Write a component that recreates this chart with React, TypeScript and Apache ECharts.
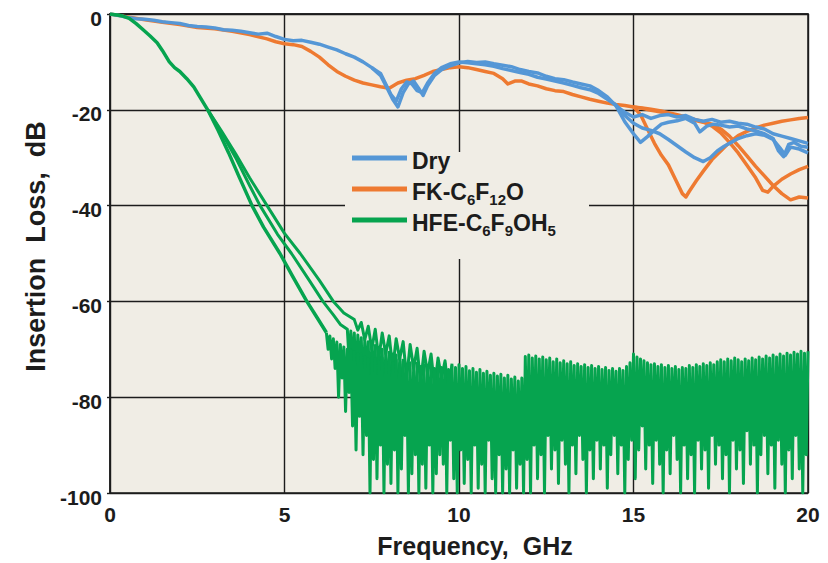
import React, { useEffect, useRef } from "react";
import * as echarts from "echarts";

// ---- axis settings ----
const xMin = 0, xMax = 20, xStep = 5;
const yMin = -100, yMax = 0, yStep = 20;

// ---- Dry (blue) ----
const dryShared: number[][] = [
  [0, 0], [0.25, -0.3], [0.5, -0.7], [0.75, -1.0], [1, -1.1], [1.25, -1.3], [1.5, -1.6], [1.75, -1.8],
  [2, -2.0], [2.25, -2.4], [2.5, -2.6], [2.75, -2.7], [3, -2.9], [3.25, -3.3], [3.5, -3.4], [3.75, -3.6],
  [4, -3.9], [4.25, -4.2], [4.5, -4.0], [4.75, -4.7], [5, -5.3], [5.25, -5.6], [5.5, -5.5], [5.75, -5.9],
  [6, -6.3], [6.25, -6.9], [6.5, -7.5], [6.75, -8.3], [7, -9.0], [7.25, -10.0], [7.5, -11.2],
];
const dryMidA: number[][] = [
  [7.75, -12.8], [7.95, -15.6], [8.1, -17.8], [8.25, -19.4], [8.4, -16.4], [8.55, -14.6], [8.7, -14.0],
  [8.85, -15.6], [8.97, -17.0], [9.1, -15.0], [9.3, -12.8], [9.5, -11.6], [9.75, -10.8], [10, -10.2],
  [10.25, -9.9], [10.5, -10.1], [10.75, -10.0], [11, -10.4], [11.25, -10.7], [11.5, -11.0], [11.75, -11.6],
  [12, -12.0], [12.25, -12.3], [12.5, -13.0], [12.75, -13.5], [13, -13.7], [13.25, -14.2], [13.5, -14.6],
  [13.75, -15.0], [14, -16.0], [14.25, -17.3], [14.5, -19.2],
];
const dryMidB: number[][] = [
  [7.75, -12.4], [7.9, -14.6], [8.05, -16.8], [8.2, -18.2], [8.35, -15.6], [8.5, -14.2], [8.65, -14.6],
  [8.8, -16.0], [8.95, -16.4], [9.1, -14.4], [9.3, -12.4], [9.5, -11.2], [9.75, -10.4], [10, -10.0],
  [10.25, -10.2], [10.5, -10.4], [10.75, -10.6], [11, -10.9], [11.25, -11.4], [11.5, -11.8], [11.75, -12.2],
  [12, -12.6], [12.25, -13.2], [12.5, -13.6], [12.75, -14.0], [13, -14.4], [13.25, -14.9], [13.5, -15.4],
  [13.75, -15.8], [14, -16.6], [14.25, -17.8], [14.5, -19.0],
];
const dryTailA: number[][] = [
  [14.75, -22.5], [15.0, -25.0], [15.2, -26.8], [15.4, -25.6], [15.6, -24.2], [15.8, -23.0], [16, -22.6],
  [16.25, -22.3], [16.5, -21.8], [16.75, -22.8], [16.9, -24.6], [17.1, -23.4], [17.3, -23.0], [17.5, -23.2],
  [17.75, -23.6], [18, -23.4], [18.25, -24.0], [18.5, -24.4], [18.75, -25.0], [19, -26.0], [19.15, -28.5],
  [19.3, -29.8], [19.45, -27.2], [19.6, -26.8], [19.8, -27.6], [20, -27.8],
];
const dryTailB: number[][] = [
  [14.75, -21.2], [15, -22.8], [15.25, -23.8], [15.5, -24.3], [15.75, -25.0], [16, -26.2], [16.25, -27.5],
  [16.5, -28.8], [16.75, -30.0], [17.0, -30.8], [17.2, -30.0], [17.4, -28.6], [17.6, -27.6], [17.8, -26.8],
  [18, -26.0], [18.25, -25.4], [18.5, -25.0], [18.75, -25.3], [19, -26.2], [19.2, -28.0], [19.35, -29.5],
  [19.5, -27.8], [19.75, -28.2], [20, -29.0],
];
const dryTailC: number[][] = [
  [14.75, -20.5], [15, -21.5], [15.25, -21.0], [15.5, -21.8], [15.75, -21.2], [16, -21.0], [16.25, -21.5],
  [16.5, -21.2], [16.75, -22.0], [17, -22.4], [17.25, -22.0], [17.5, -22.6], [17.75, -22.4], [18, -22.8],
  [18.25, -23.0], [18.5, -23.6], [18.75, -24.0], [19, -25.0], [19.25, -25.5], [19.5, -26.0], [19.75, -26.5],
  [20, -27.0],
];

// ---- FK-C6F12O (orange) ----
const fkShared: number[][] = [
  [0, 0], [0.5, -0.6], [1, -1.2], [1.5, -1.7], [2, -2.2], [2.5, -2.8], [3, -3.1], [3.5, -3.6], [4, -4.3],
  [4.5, -5.2], [4.75, -5.8], [5, -6.2], [5.25, -6.4], [5.5, -6.8], [5.75, -7.8], [6, -9.0], [6.25, -10.6],
  [6.5, -12.0], [6.75, -13.0], [7, -13.8], [7.25, -14.4], [7.5, -14.8], [7.75, -15.2], [8, -15.5],
  [8.25, -14.4], [8.5, -13.8], [8.75, -13.5], [9, -12.8], [9.25, -12.0], [9.5, -11.6], [9.75, -11.2],
  [10, -11.0], [10.25, -11.2], [10.5, -11.6], [10.75, -12.0], [11, -12.4], [11.25, -13.5], [11.4, -14.6],
  [11.6, -14.0], [11.8, -14.0], [12, -14.6], [12.25, -15.0], [12.5, -15.6], [12.75, -16.0], [13, -16.2],
  [13.25, -16.8], [13.5, -17.3], [13.75, -17.8], [14, -18.2], [14.25, -18.6], [14.5, -18.9], [14.75, -19.1],
  [15, -19.4],
];
const fkTail1: number[][] = [
  [15.2, -21.0], [15.4, -24.0], [15.6, -27.0], [15.8, -29.5], [16.0, -31.5], [16.2, -34.5], [16.4, -37.5],
  [16.5, -38.2], [16.6, -37.0], [16.8, -34.8], [17.0, -32.8], [17.25, -30.4], [17.5, -28.6], [17.75, -26.8],
  [18, -25.4], [18.25, -24.5], [18.5, -23.8], [18.75, -23.2], [19, -22.8], [19.25, -22.4], [19.5, -22.1],
  [19.75, -21.8], [20, -21.6],
];
const fkTail2: number[][] = [
  [15.25, -19.6], [15.5, -19.9], [15.75, -20.2], [16, -20.6], [16.25, -21.0], [16.5, -21.5], [16.75, -22.0],
  [17, -22.5], [17.25, -23.4], [17.5, -24.8], [17.75, -26.8], [18, -29.0], [18.25, -31.6], [18.5, -34.2],
  [18.7, -36.8], [18.85, -37.2], [19.0, -36.0], [19.25, -34.5], [19.5, -33.4], [19.75, -32.5], [20, -31.8],
];
const fkTail3: number[][] = [
  [15.25, -19.7], [15.5, -20.1], [15.75, -20.4], [16, -20.8], [16.25, -21.3], [16.5, -21.7], [16.75, -22.2],
  [17, -22.6], [17.25, -23.0], [17.5, -24.0], [17.75, -25.5], [18, -27.5], [18.25, -29.6], [18.5, -31.8],
  [18.75, -33.8], [19, -35.8], [19.25, -37.5], [19.5, -38.8], [19.75, -38.2], [20, -38.4],
];

// ---- HFE-C6F9OH5 (green) ----
const hfeShared: number[][] = [
  [0, 0], [0.3, -0.3], [0.55, -0.9], [0.75, -2.0], [0.95, -3.3], [1.15, -4.6], [1.35, -6.0], [1.5, -7.6],
  [1.7, -10.0], [1.85, -11.2], [2.0, -12.0], [2.2, -13.5], [2.4, -15.2], [2.6, -17.6], [2.8, -20.0],
];
const hfeTail1: number[][] = [
  [3.1, -24.3], [3.4, -29.0], [3.7, -34.0], [4.07, -40.0], [4.4, -44.5], [4.87, -50.0], [5.25, -55.0],
  [5.64, -60.0], [5.9, -63.0], [6.2, -66.5],
];
const hfeTail2: number[][] = [
  [3.2, -24.8], [3.6, -30.0], [4.0, -35.8], [4.3, -40.0], [4.8, -46.0], [5.2, -50.0], [5.7, -55.5],
  [6.1, -60.0], [6.4, -62.8], [6.6, -64.8], [6.8, -65.8], [6.85, -72], [6.9, -66.2], [6.95, -74],
  [7.0, -66.6], [7.05, -78], [7.1, -67], [7.15, -75], [7.2, -67.6], [7.25, -81], [7.3, -68], [7.35, -77],
  [7.4, -68.4], [7.45, -84], [7.5, -68.8], [7.55, -79], [7.6, -69.2], [7.65, -86], [7.7, -69.6], [7.75, -82],
  [7.8, -70], [7.85, -88], [7.9, -70.4], [7.95, -84], [8.0, -70.6], [8.05, -90], [8.1, -71], [8.15, -85],
  [8.2, -71.2], [8.25, -92], [8.3, -71.6], [8.35, -87], [8.4, -72],
];
const hfeTail3: number[][] = [
  [3.2, -24.5], [3.6, -29.2], [4.0, -34.2], [4.5, -40.0], [5.0, -45.8], [5.45, -50.0], [6.0, -55.6],
  [6.4, -60.0], [6.7, -62.4], [7.0, -63.8], [7.1, -66], [7.2, -64.4], [7.3, -68], [7.4, -65.2], [7.5, -70],
  [7.6, -65.8], [7.7, -72], [7.8, -66.6], [7.9, -71], [8.0, -67.2], [8.1, -74], [8.2, -67.8], [8.3, -72],
  [8.4, -68.4], [8.5, -76], [8.6, -69], [8.7, -74], [8.8, -69.8], [8.9, -77], [9.0, -70.4], [9.1, -75],
  [9.2, -71], [9.3, -78], [9.4, -71.8], [9.5, -76], [9.6, -72.4], [9.7, -79], [9.8, -73],
];
// measured noise floor of trace 1, sampled every 0.05 GHz from 6.25 GHz
const hfeNoiseStart = 6.25;
const hfeNoiseStep = 0.05;
const hfeNoise: number[] = [
  -70, -67.2, -72, -67.8, -74, -68.5, -80, -69, -76, -69.5, -83, -70, -79, -70.2, -86,
  -70.5, -91, -71, -84, -71, -92, -71.5, -88, -72, -100, -71.8, -93, -72, -97, -72.5, -90, -71.8, -100, -72.4, -94,
  -72, -98, -72.8, -91, -72.2, -100, -73, -95, -72.6, -88, -73.2, -100, -72.8, -96, -73.4, -92, -72.9, -100, -73.6, -94,
  -73.2, -99, -73.8, -90, -73.5, -100, -74, -96, -73.4, -92, -73.8, -94, -73, -100, -74.2, -89, -73.5, -97, -73.8, -100,
  -73.2, -91, -74, -98, -73.6, -93, -74.5, -100, -74, -90, -74.8, -99, -74.2, -94, -75, -100, -74.6, -89, -75.4, -97,
  -75, -100, -75.6, -92, -75.2, -100, -76, -95, -75.4, -100, -76.2, -91, -75.8, -99, -76.6, -94, -76, -100, -71.5, -93,
  -71.2, -100, -71.8, -90, -71.4, -97, -72, -92, -71.6, -100, -72.2, -88, -71.8, -95, -72.6, -91, -72, -98, -72.8, -89,
  -72.4, -94, -73, -100, -72.6, -90, -73.4, -96, -73, -88, -73.6, -93, -73.2, -100, -73.8, -91, -73.4, -97, -74, -89,
  -73.6, -95, -74.2, -90, -73.8, -99, -74.4, -92, -74, -88, -74.6, -96, -74, -90, -74.4, -100, -73.6, -93, -72.8, -89,
  -71, -97, -71.6, -91, -72, -86, -72.4, -95, -72.8, -90, -73.2, -98, -73, -89, -73.6, -94, -73.2, -100, -73.8, -91,
  -73.4, -96, -74, -88, -73.6, -93, -74.2, -100, -73.8, -90, -74, -97, -73.4, -92, -73.8, -100, -73.2, -89, -73.6, -95,
  -73, -91, -73.4, -99, -72.8, -88, -73.2, -94, -72.6, -90, -72.2, -97, -72.6, -92, -72, -100, -72.4, -89, -71.8, -95,
  -72.2, -91, -72.6, -98, -72, -87, -72.4, -94, -71.8, -90, -72.2, -100, -71.6, -92, -72, -88, -71.4, -96, -71.8, -90,
  -71.2, -99, -71.6, -89, -71, -94, -71.4, -100, -70.8, -91, -71.2, -97, -70.6, -88, -71, -95, -70.4, -100, -70.8, -92,
  -70.4,
];

const seriesNames = ["Dry", "FK-C6F12O", "HFE-C6F9OH5"];
const BLUE = "#5597d6";
const ORANGE = "#ee7a31";
const GREEN = "#06a44f";
const BG = "#f0ede5";
const INK = "#1c1c1c";
const FONT = "'Liberation Sans', Arial, sans-serif";

export default function App() {
  const ref = useRef<HTMLDivElement>(null);
  useEffect(() => {
    if (!ref.current) return;
    const chart = echarts.init(ref.current, null, { renderer: "svg" });
    const line = (name: string, color: string, data: number[][], width = 3.5) => ({
      type: "line",
      name,
      data,
      showSymbol: false,
      symbol: "none",
      lineStyle: { color, width, join: "round" },
      itemStyle: { color },
      emphasis: { disabled: true },
      z: 2,
    });
    const noiseData: number[][] = [[6.2, -66.5]].concat(
      hfeNoise.map((v, i) => [hfeNoiseStart + i * hfeNoiseStep, v])
    );
    const legendFmt = (name: string) => {
      if (name === "Dry") return "{b|Dry}{s| }";
      if (name === "FK-C6F12O") return "{b|FK-C}{s|6}{b|F}{s|12}{b|O}";
      return "{b|HFE-C}{s|6}{b|F}{s|9}{b|OH}{s|5}";
    };
    chart.setOption({
      animation: false,
      backgroundColor: "#ffffff",
      grid: {
        left: 110, top: 14, right: 20, bottom: 68,
        show: true, backgroundColor: BG, borderColor: INK, borderWidth: 1.5,
      },
      xAxis: {
        type: "value", min: xMin, max: xMax, interval: xStep,
        name: "Frequency,  GHz", nameLocation: "middle", nameGap: 40,
        nameTextStyle: { fontSize: 25, fontWeight: "bold", color: INK, fontFamily: FONT, padding: [0, 0, 0, 32] },
        axisLine: { show: true, lineStyle: { color: INK, width: 1.5 } },
        axisTick: { show: false },
        axisLabel: { fontSize: 21, fontWeight: "bold", color: INK, fontFamily: FONT, margin: 11 },
        splitLine: { show: true, lineStyle: { color: INK, width: 1.4 } },
      },
      yAxis: {
        type: "value", min: yMin, max: yMax, interval: yStep,
        name: "Insertion  Loss,  dB", nameLocation: "middle", nameGap: 60, nameRotate: 90,
        nameTextStyle: { fontSize: 27, fontWeight: "bold", color: INK, fontFamily: FONT, padding: [0, 0, 0, 14] },
        axisLine: { show: true, lineStyle: { color: INK, width: 1.5 } },
        axisTick: { show: true, length: 3, lineStyle: { color: INK, width: 1.4 } },
        axisLabel: {
          fontSize: 21, fontWeight: "bold", color: INK, fontFamily: FONT, margin: 8,
          verticalAlign: "top", lineHeight: 8,
        },
        splitLine: { show: true, lineStyle: { color: INK, width: 1.4 } },
      },
      legend: {
        data: seriesNames,
        orient: "vertical",
        left: 352, top: 149,
        padding: 0,
        itemGap: 4,
        itemWidth: 55, itemHeight: 5,
        icon: "rect",
        selectedMode: false,
        formatter: legendFmt,
        textStyle: {
          color: INK,
          rich: {
            b: { fontSize: 23, fontWeight: "bold", color: INK, fontFamily: FONT, lineHeight: 18, verticalAlign: "top" },
            s: { fontSize: 15, fontWeight: "bold", color: INK, fontFamily: FONT, lineHeight: 12, padding: [12, 0, 0, 0], verticalAlign: "top" },
          },
        },
        z: 5,
      },
      graphic: [
        { type: "rect", shape: { x: 345, y: 152, width: 244, height: 107 }, style: { fill: BG }, z: 1, silent: true },
      ],
      series: [
        line("FK-C6F12O", ORANGE, fkShared.concat(fkTail1)),
        line("FK-C6F12O", ORANGE, fkShared.slice(-1).concat(fkTail2)),
        line("FK-C6F12O", ORANGE, fkShared.slice(-1).concat(fkTail3)),
        line("Dry", BLUE, dryShared.concat(dryMidA, dryTailA)),
        line("Dry", BLUE, dryShared.slice(-1).concat(dryMidB, dryTailB)),
        line("Dry", BLUE, dryMidA.slice(-1).concat(dryTailC)),
        line("HFE-C6F9OH5", GREEN, hfeShared.concat(hfeTail1)),
        line("HFE-C6F9OH5", GREEN, hfeShared.slice(-1).concat(hfeTail2), 3),
        line("HFE-C6F9OH5", GREEN, hfeShared.slice(-1).concat(hfeTail3), 3),
        line("HFE-C6F9OH5", GREEN, noiseData, 3),
      ],
    });
    return () => chart.dispose();
  }, []);
  return <div ref={ref} style={{ position: "fixed", left: 0, top: 0, width: 828, height: 563 }} />;
}
